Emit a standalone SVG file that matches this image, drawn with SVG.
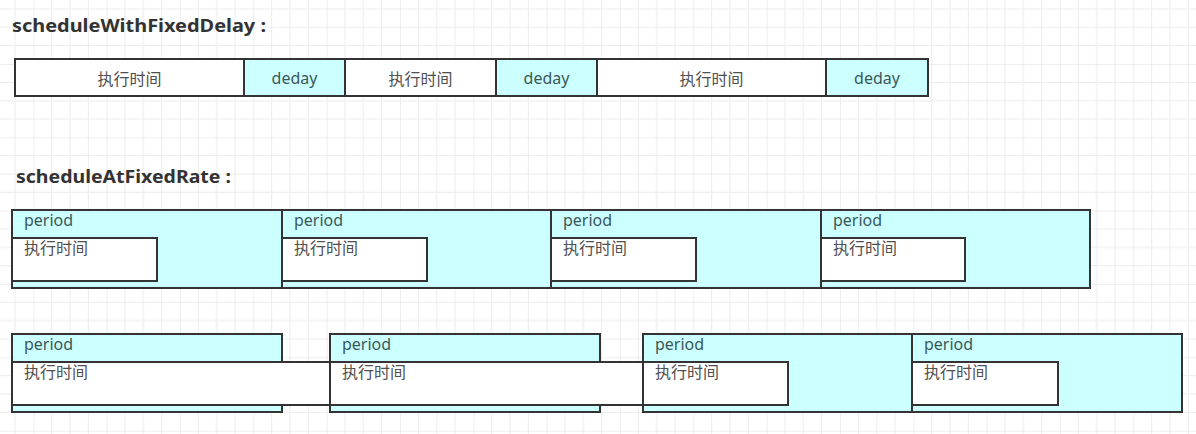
<svg xmlns="http://www.w3.org/2000/svg" width="1196" height="434" viewBox="0 0 1196 434">
  <defs>
    <pattern id="grid" patternUnits="userSpaceOnUse" x="33.333" y="64" width="73.333" height="73.333">
      <path d="M18.333 0V73.333M36.667 0V73.333M55 0V73.333M0 18.333H73.333M0 36.667H73.333M0 55H73.333" fill="none" stroke="#ececec" stroke-width="1"/>
      <path d="M0 0V73.333M0 0H73.333" fill="none" stroke="#dedede" stroke-width="1"/>
    </pattern>
  </defs>
  <style>
    .box { stroke: #333; stroke-width: 2; }
    .cyan { fill: #ccffff; }
    .white { fill: #ffffff; }
    .t { font-family: "Noto Sans", "Noto Sans CJK SC", sans-serif; font-size: 16px; }
    .tc { fill: #3a5858; }
    .tw { fill: #505050; }
    .mid { text-anchor: middle; }
    .title { font-family: "Noto Sans", "Noto Sans CJK SC", sans-serif; font-size: 18px; font-weight: bold; fill: #333; }
  </style>
  <rect width="1196" height="434" fill="#ffffff"/>
  <rect width="1196" height="434" fill="url(#grid)"/>

  <g id="title-fixed-delay">
    <text class="title" x="12" y="32" textLength="254" lengthAdjust="spacingAndGlyphs">scheduleWithFixedDelay :</text>
  </g>

  <g id="delay-row">
    <g id="d-exec1"><rect class="box white" x="15" y="59" width="229" height="37"/><text class="t tw mid" x="129.5" y="85">执行时间</text></g>
    <g id="d-delay1"><rect class="box cyan" x="244" y="59" width="101" height="37"/><text class="t tc mid" x="294.5" y="84">deday</text></g>
    <g id="d-exec2"><rect class="box white" x="345" y="59" width="151" height="37"/><text class="t tw mid" x="420.5" y="85">执行时间</text></g>
    <g id="d-delay2"><rect class="box cyan" x="496" y="59" width="101" height="37"/><text class="t tc mid" x="546.5" y="84">deday</text></g>
    <g id="d-exec3"><rect class="box white" x="597" y="59" width="229" height="37"/><text class="t tw mid" x="711.5" y="85">执行时间</text></g>
    <g id="d-delay3"><rect class="box cyan" x="826" y="59" width="102" height="37"/><text class="t tc mid" x="877" y="84">deday</text></g>
  </g>

  <g id="title-fixed-rate">
    <text class="title" x="16" y="183" textLength="215" lengthAdjust="spacingAndGlyphs">scheduleAtFixedRate :</text>
  </g>

  <g id="rate-row-a">
    <g id="ra-1">
      <rect class="box cyan" x="12" y="210" width="270" height="78"/>
      <text class="t tc" x="24" y="226">period</text>
      <rect class="box white" x="12" y="238" width="145" height="43"/>
      <text class="t tw" x="24" y="254">执行时间</text>
    </g>
    <g id="ra-2">
      <rect class="box cyan" x="282" y="210" width="269" height="78"/>
      <text class="t tc" x="294" y="226">period</text>
      <rect class="box white" x="282" y="238" width="145" height="43"/>
      <text class="t tw" x="294" y="254">执行时间</text>
    </g>
    <g id="ra-3">
      <rect class="box cyan" x="551" y="210" width="270" height="78"/>
      <text class="t tc" x="563" y="226">period</text>
      <rect class="box white" x="551" y="238" width="145" height="43"/>
      <text class="t tw" x="563" y="254">执行时间</text>
    </g>
    <g id="ra-4">
      <rect class="box cyan" x="821" y="210" width="269" height="78"/>
      <text class="t tc" x="833" y="226">period</text>
      <rect class="box white" x="821" y="238" width="144" height="43"/>
      <text class="t tw" x="833" y="254">执行时间</text>
    </g>
  </g>

  <g id="rate-row-b">
    <g id="rb-1">
      <rect class="box cyan" x="12" y="334" width="270" height="78"/>
      <text class="t tc" x="24" y="350">period</text>
      <rect class="box white" x="12" y="362" width="318" height="43"/>
      <text class="t tw" x="24" y="378">执行时间</text>
    </g>
    <g id="rb-2">
      <rect class="box cyan" x="330" y="334" width="270" height="78"/>
      <text class="t tc" x="342" y="350">period</text>
      <rect class="box white" x="330" y="362" width="313" height="43"/>
      <text class="t tw" x="342" y="378">执行时间</text>
    </g>
    <g id="rb-3">
      <rect class="box cyan" x="643" y="334" width="269" height="78"/>
      <text class="t tc" x="655" y="350">period</text>
      <rect class="box white" x="643" y="362" width="145" height="43"/>
      <text class="t tw" x="655" y="378">执行时间</text>
    </g>
    <g id="rb-4">
      <rect class="box cyan" x="912" y="334" width="270" height="78"/>
      <text class="t tc" x="924" y="350">period</text>
      <rect class="box white" x="912" y="362" width="146" height="43"/>
      <text class="t tw" x="924" y="378">执行时间</text>
    </g>
  </g>
</svg>
